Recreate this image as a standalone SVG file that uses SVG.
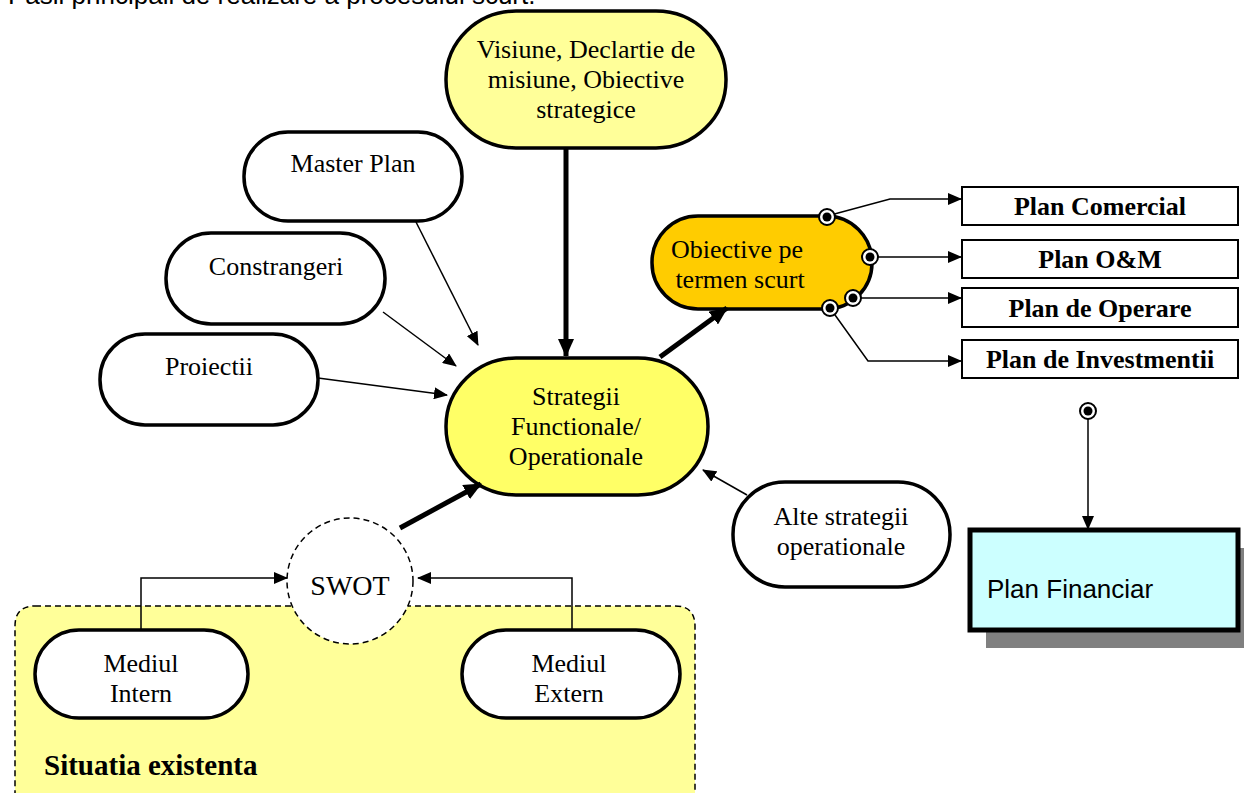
<svg xmlns="http://www.w3.org/2000/svg" width="1244" height="793" viewBox="0 0 1244 793">
  <style>
    .serif { font-family: "Liberation Serif", "Times New Roman", serif; font-size: 26px; fill: #000; }
    .sans { font-family: "Liberation Sans", Arial, sans-serif; font-size: 26px; fill: #000; }
    .bold { font-weight: bold; }
    .node { stroke: #000; stroke-width: 3.5; }
    .thin { stroke: #000; stroke-width: 1.5; fill: none; }
    .thick { stroke: #000; stroke-width: 5; fill: none; }
    .ring { fill: #fff; stroke: #000; stroke-width: 2; }
  </style>
  <defs>
    <marker id="arrowThin" markerUnits="userSpaceOnUse" markerWidth="14" markerHeight="12" refX="13" refY="6" orient="auto">
      <path d="M0,0 L14,6 L0,12 Z" fill="#000"/>
    </marker>
    <marker id="arrowThick" markerUnits="userSpaceOnUse" markerWidth="18" markerHeight="16" refX="17" refY="8" orient="auto">
      <path d="M0,0 L18,8 L0,16 Z" fill="#000"/>
    </marker>
    <g id="ringDot">
      <circle r="8" class="ring"/>
      <circle r="4.5" fill="#000"/>
    </g>
  </defs>

  <rect width="1244" height="793" fill="#fff"/>

  <text class="sans" x="8" y="4">Pasii principali de realizare a procesului scurt.</text>

  <!-- Existing situation area -->
  <g id="situatia">
    <path d="M35,606 H675 Q695,606 695,626 V800 H15 V626 Q15,606 35,606 Z" fill="#ffff99" stroke="#000" stroke-width="1.5" stroke-dasharray="6,4"/>
    <text class="serif bold" x="44" y="775" style="font-size:29px">Situatia existenta</text>
  </g>

  <g id="swot">
    <ellipse cx="350" cy="581" rx="63" ry="63" fill="#fff" stroke="#000" stroke-width="1.5" stroke-dasharray="6,4"/>
    <text class="serif" x="350" y="595" text-anchor="middle" style="font-size:28px">SWOT</text>
  </g>

  <g id="mediul-intern">
    <rect class="node" x="35" y="630" width="213" height="88" rx="44" ry="44" fill="#fff"/>
    <text class="serif" x="141" y="672" text-anchor="middle">Mediul</text>
    <text class="serif" x="141" y="702" text-anchor="middle">Intern</text>
  </g>

  <g id="mediul-extern">
    <rect class="node" x="462" y="630" width="218" height="88" rx="44" ry="44" fill="#fff"/>
    <text class="serif" x="569" y="672" text-anchor="middle">Mediul</text>
    <text class="serif" x="569" y="702" text-anchor="middle">Extern</text>
  </g>

  <g id="viziune">
    <rect class="node" x="446" y="11" width="280" height="137" rx="70" ry="68" fill="#ffff99"/>
    <text class="serif" x="586" y="58" text-anchor="middle">Visiune, Declartie de</text>
    <text class="serif" x="586" y="88" text-anchor="middle">misiune, Obiective</text>
    <text class="serif" x="586" y="118" text-anchor="middle">strategice</text>
  </g>

  <g id="master-plan">
    <rect class="node" x="244" y="132" width="218" height="89" rx="44" ry="44" fill="#fff"/>
    <text class="serif" x="353" y="172" text-anchor="middle">Master Plan</text>
  </g>

  <g id="constrangeri">
    <rect class="node" x="166" y="233" width="219" height="91" rx="45" ry="45" fill="#fff"/>
    <text class="serif" x="276" y="275" text-anchor="middle">Constrangeri</text>
  </g>

  <g id="proiectii">
    <rect class="node" x="100" y="334" width="218" height="91" rx="45" ry="45" fill="#fff"/>
    <text class="serif" x="209" y="375" text-anchor="middle">Proiectii</text>
  </g>

  <g id="strategii">
    <rect class="node" x="446" y="358" width="262" height="137" rx="70" ry="68" fill="#ffff66" stroke-width="4.5"/>
    <text class="serif" x="576" y="405" text-anchor="middle">Strategii</text>
    <text class="serif" x="576" y="435" text-anchor="middle">Functionale/</text>
    <text class="serif" x="576" y="465" text-anchor="middle">Operationale</text>
  </g>

  <g id="alte-strategii">
    <rect class="node" x="733" y="482" width="217" height="105" rx="52" ry="52" fill="#fff"/>
    <text class="serif" x="841" y="525" text-anchor="middle">Alte strategii</text>
    <text class="serif" x="841" y="555" text-anchor="middle">operationale</text>
  </g>

  <g id="obiective">
    <rect class="node" x="652" y="216" width="220" height="93" rx="46" ry="46" fill="#ffcc00" stroke-width="4.5"/>
    <text class="serif" x="737" y="258" text-anchor="middle">Obiective pe</text>
    <text class="serif" x="740" y="288" text-anchor="middle">termen scurt</text>
  </g>

  <g id="plan-comercial">
    <rect x="962" y="187" width="276" height="38" fill="#fff" stroke="#000" stroke-width="2"/>
    <text class="serif bold" x="1100" y="215" text-anchor="middle">Plan Comercial</text>
  </g>
  <g id="plan-om">
    <rect x="962" y="240" width="276" height="38" fill="#fff" stroke="#000" stroke-width="2"/>
    <text class="serif bold" x="1100" y="268" text-anchor="middle">Plan O&amp;M</text>
  </g>
  <g id="plan-operare">
    <rect x="962" y="288" width="276" height="39" fill="#fff" stroke="#000" stroke-width="2"/>
    <text class="serif bold" x="1100" y="317" text-anchor="middle">Plan de Operare</text>
  </g>
  <g id="plan-investitii">
    <rect x="962" y="340" width="276" height="38" fill="#fff" stroke="#000" stroke-width="2"/>
    <text class="serif bold" x="1100" y="368" text-anchor="middle">Plan de Investmentii</text>
  </g>

  <g id="plan-financiar">
    <rect x="986" y="548" width="270" height="100" fill="#808080"/>
    <rect x="970" y="530" width="268" height="100" fill="#ccffff" stroke="#000" stroke-width="5"/>
    <text class="sans" x="987" y="598">Plan Financiar</text>
  </g>

  <!-- Connectors -->
  <g id="connectors">
    <path class="thick" d="M566,148 V356" marker-end="url(#arrowThick)"/>
    <path class="thick" d="M660,357 L727,308" marker-end="url(#arrowThick)"/>
    <path class="thick" d="M400,528 L481,484" marker-end="url(#arrowThick)"/>

    <path class="thin" d="M416,222 L478,345" marker-end="url(#arrowThin)"/>
    <path class="thin" d="M383,312 L456,366" marker-end="url(#arrowThin)"/>
    <path class="thin" d="M318,378 L447,395" marker-end="url(#arrowThin)"/>
    <path class="thin" d="M747,495 L703,470" marker-end="url(#arrowThin)"/>

    <path class="thin" d="M141,630 V578 H287" marker-end="url(#arrowThin)"/>
    <path class="thin" d="M572,630 V578 H418" marker-end="url(#arrowThin)"/>

    <path class="thin" d="M827,216 L890,199 H961" marker-end="url(#arrowThin)"/>
    <path class="thin" d="M870,257 H961" marker-end="url(#arrowThin)"/>
    <path class="thin" d="M853,298 H961" marker-end="url(#arrowThin)"/>
    <path class="thin" d="M830,308 L868,361 H961" marker-end="url(#arrowThin)"/>
    <path class="thin" d="M1088,411 V529" marker-end="url(#arrowThin)"/>

    <use href="#ringDot" x="827" y="217"/>
    <use href="#ringDot" x="870" y="257"/>
    <use href="#ringDot" x="853" y="298"/>
    <use href="#ringDot" x="830" y="308"/>
    <use href="#ringDot" x="1088" y="411"/>
  </g>
</svg>
